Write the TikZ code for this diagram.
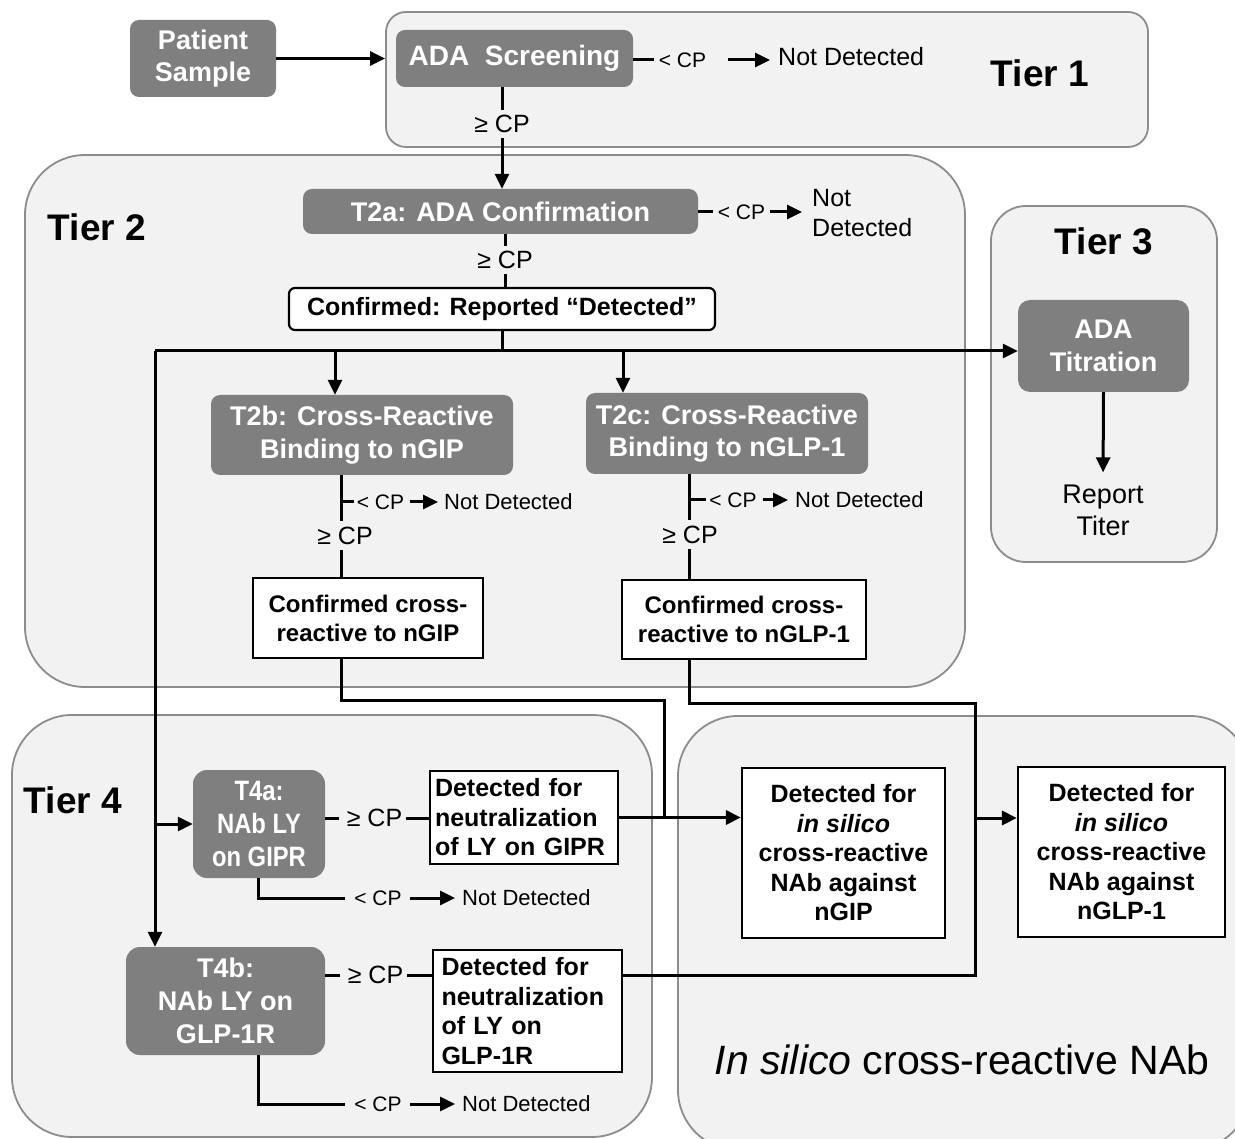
\documentclass[tikz,border=0pt]{standalone}
\usepackage{fontspec}
\setmainfont{Liberation Sans}
\newfontfamily\condfont[FakeStretch=0.85]{Liberation Sans}
\usetikzlibrary{arrows.meta}
\definecolor{boxgray}{HTML}{7F7F7F}
\definecolor{tierfill}{HTML}{F2F2F2}
\definecolor{tierline}{HTML}{8C8C8C}
\begin{document}
\begin{tikzpicture}[x=1pt,y=-1pt,
  gbox/.style={fill=boxgray, rounded corners=9pt, text=white, align=center, inner sep=0pt,
    font=\bfseries\fontsize{27}{32.5}\selectfont},
  wbox/.style={fill=white, draw=black, line width=2.2pt, align=center, inner sep=0pt,
    font=\bfseries\fontsize{25}{29.5}\selectfont},
  tierbox/.style={fill=tierfill, draw=tierline, line width=1.8pt, inner sep=0pt},
  tierlab/.style={font=\bfseries\fontsize{37}{44}\selectfont, inner sep=0pt},
  cplab/.style={font=\fontsize{21}{25}\selectfont, inner sep=0pt},
  gelab/.style={font=\fontsize{25}{30}\selectfont, inner sep=0pt},
  ndlab/.style={font=\fontsize{22}{26}\selectfont, inner sep=0pt, anchor=west},
  conn/.style={line width=3pt},
  arr/.style={conn, -{Triangle[length=15pt,width=14pt]}}
]
\useasboundingbox (0,0) rectangle (1235,1139);
\fill[white] (0,0) rectangle (1235,1139);
% containers
\begin{scope}
\clip (0,0) rectangle (1235,1139);
\node[tierbox, rounded corners=20pt, minimum width=762pt, minimum height=135pt] (t1) at (767,79.5) {};
\node[tierbox, rounded corners=60pt, minimum width=940pt, minimum height=532pt] (t2) at (495,421) {};
\node[tierbox, rounded corners=35pt, minimum width=226pt, minimum height=356pt] (t3) at (1104,384) {};
\node[tierbox, rounded corners=60pt, minimum width=640pt, minimum height=422pt] (t4) at (332,926) {};
\node[tierbox, rounded corners=60pt, minimum width=572pt, minimum height=434pt] (t5) at (964,933) {};
\end{scope}
% tier labels
\node[tierlab] (t1lab) at (1040,73) {Tier 1};
\node[tierlab] (t2lab) at (97,227) {Tier 2};
\node[tierlab] (t3lab) at (1104,241) {Tier 3};
\node[tierlab] (t4lab) at (73,800) {Tier 4};
\node[font=\fontsize{41}{48}\selectfont, inner sep=0pt] (t5lab) at (962,1060) {\itshape In silico\upshape{} cross-reactive NAb};
% tier 1
\node[gbox, minimum width=146pt, minimum height=77pt] (ps) at (203,58.5) {Patient\\Sample};
\node[gbox, minimum width=237pt, minimum height=57pt, font=\bfseries\fontsize{28}{33}\selectfont] (scr) at (514.5,58.5) {\raisebox{-2pt}{ADA\ \ Screening}};
\node[cplab] (lt1) at (682.5,60) {< CP};
\node[ndlab, font=\fontsize{25}{30}\selectfont] (nd1) at (778,57) {Not Detected};
\node[gelab] (ge1) at (502,124) {≥ CP};
% tier 2
\node[gbox, minimum width=395pt, minimum height=45pt] (t2a) at (500.5,211.5) {T2a: ADA Confirmation};
\node[cplab] (lt2) at (741.5,212) {< CP};
\node[ndlab, align=left, font=\fontsize{25}{30}\selectfont] (nd2) at (812,213) {Not\\Detected};
\node[gelab] (ge2) at (505,260) {≥ CP};
\node[wbox, rounded corners=6pt, minimum width=426pt, minimum height=42pt] (conf) at (502,309) {Confirmed: Reported “Detected”};
\node[gbox, minimum width=302pt, minimum height=80pt] (t2b) at (362,435) {T2b: Cross-Reactive\\Binding to nGIP};
\node[gbox, minimum width=282pt, minimum height=81pt] (t2c) at (727,433.5) {T2c: Cross-Reactive\\Binding to nGLP-1};
\node[cplab] (lt3) at (380.5,502) {< CP};
\node[ndlab] (nd3) at (444,502) {Not Detected};
\node[gelab] (ge3) at (345,536) {≥ CP};
\node[cplab] (lt4) at (733,500) {< CP};
\node[ndlab] (nd4) at (795,500) {Not Detected};
\node[gelab] (ge4) at (690,535) {≥ CP};
\node[wbox, minimum width=230pt, minimum height=80pt, font=\bfseries\fontsize{24}{29}\selectfont] (cc1) at (368,618) {Confirmed cross-\\reactive to nGIP};
\node[wbox, minimum width=244pt, minimum height=79pt, font=\bfseries\fontsize{24}{29}\selectfont] (cc2) at (744,619.5) {Confirmed cross-\\reactive to nGLP-1};
% tier 3
\node[gbox, rounded corners=12pt, minimum width=171pt, minimum height=92pt] (tit) at (1103.5,346) {ADA\\Titration};
\node[font=\fontsize{27}{32}\selectfont, align=center, inner sep=0pt] (rep) at (1103,510) {Report\\Titer};
% tier 4
\node[gbox, rounded corners=14pt, minimum width=132pt, minimum height=108pt, font=\condfont\bfseries\fontsize{28}{33}\selectfont] (t4a) at (259,824) {T4a:\\NAb LY\\on GIPR};
\node[gbox, rounded corners=14pt, minimum width=199pt, minimum height=108pt, font=\bfseries\fontsize{27}{33}\selectfont] (t4b) at (225.5,1001) {T4b:\\NAb LY on\\GLP-1R};
\node[gelab] (ge5) at (374.5,818) {≥ CP};
\node[wbox, align=left, text width=178pt, minimum width=188pt, minimum height=93pt] (dn1) at (524,817.5) {Detected for\\neutralization\\of LY on GIPR};
\node[cplab] (lt5) at (378,898) {< CP};
\node[ndlab] (nd5) at (462,898) {Not Detected};
\node[gelab] (ge6) at (375.5,975) {≥ CP};
\node[wbox, align=left, text width=172pt, minimum width=189pt, minimum height=122pt] (dn2) at (527.5,1011) {Detected for\\neutralization\\of LY on\\GLP-1R};
\node[cplab] (lt6) at (378,1104) {< CP};
\node[ndlab] (nd6) at (462,1104) {Not Detected};
% in silico
\node[wbox, minimum width=203pt, minimum height=170pt] (is1) at (843.5,853) {Detected for\\\textit{in silico}\\cross-reactive\\NAb against\\nGIP};
\node[wbox, minimum width=207pt, minimum height=170pt] (is2) at (1121.5,852) {Detected for\\\textit{in silico}\\cross-reactive\\NAb against\\nGLP-1};
% helper coordinates
\coordinate (j1) at (502,351);
\coordinate (jl) at (155,351);
\coordinate (jb) at (335,351);
\coordinate (jc) at (623,351);
\coordinate (xb) at (341,0);
\coordinate (xc) at (689,0);
\coordinate (x4) at (258,0);
\coordinate (ka) at (664,700);
\coordinate (kb) at (975,703);
\coordinate (kc) at (975,818);
\coordinate (ky) at (975,975);
\coordinate (e5) at (345,898);
\coordinate (e6) at (345,1104);
% connectors tier 1
\draw[arr] (ps.east) -- (ps.east -| t1.west);
\draw[conn, shorten >=5pt] (scr.east |- lt1) -- (lt1.west);
\draw[arr, shorten <=22pt, shorten >=8pt] (lt1.east) -- (nd1.west |- lt1);
\draw[conn, shorten >=5pt] (ge1 |- scr.south) -- (ge1.north);
\draw[arr, shorten <=5pt] (ge1.south) -- (ge1 |- t2a.north);
% tier 2
\draw[conn, shorten >=5pt] (t2a.east |- lt2) -- (lt2.west);
\draw[arr, shorten <=5pt, shorten >=10pt] (lt2.east) -- (nd2.west |- lt2);
\draw[conn, shorten >=5pt] (ge2 |- t2a.south) -- (ge2.north);
\draw[conn, shorten <=5pt] (ge2.south) -- (ge2 |- conf.north);
\draw[conn] (j1 |- conf.south) -- (j1);
\draw[arr] (jl) -- (j1 -| tit.west);
\draw[arr] (jb) -- (jb |- t2b.north);
\draw[arr] (jc) -- (jc |- t2c.north);
\draw[arr] (jl) -- (jl |- t4b.north);
\draw[arr] (jl |- t4a) -- (t4a.west);
% T2b branch
\draw[conn, shorten >=6pt] (xb |- t2b.south) -- (xb |- ge3.north);
\draw[conn, shorten <=5pt] (xb |- ge3.south) -- (xb |- cc1.north);
\draw[conn, shorten >=3pt] (xb |- lt3) -- (lt3.west);
\draw[arr, shorten <=6pt, shorten >=6pt] (lt3.east) -- (nd3.west);
% T2c branch
\draw[conn, shorten >=6pt] (xc |- t2c.south) -- (xc |- ge4.north);
\draw[conn, shorten <=5pt] (xc |- ge4.south) -- (xc |- cc2.north);
\draw[conn, shorten >=3pt] (xc |- lt4) -- (lt4.west);
\draw[arr, shorten <=6pt, shorten >=7pt] (lt4.east) -- (nd4.west);
% tier 3
\draw[arr, shorten >=12pt] (tit.south) -- (rep.north);
% cross-reactive routes
\draw[conn] (xb |- cc1.south) |- (ka) -- (ka |- dn1.east);
\draw[conn] (xc |- cc2.south) |- (kb) -- (ky) -- (ky -| dn2.east);
\draw[arr] (dn1.east) -- (is1.west |- dn1.east);
\draw[arr] (kc) -- (kc -| is2.west);
% tier 4
\draw[conn, shorten >=8pt] (t4a.east |- ge5) -- (ge5.west);
\draw[conn, shorten <=4pt] (ge5.east) -- (ge5 -| dn1.west);
\draw[conn] (x4 |- t4a.south) |- (e5);
\draw[arr, shorten <=8pt, shorten >=7pt] (lt5.east) -- (nd5.west);
\draw[conn, shorten >=8pt] (t4b.east |- ge6) -- (ge6.west);
\draw[conn, shorten <=4pt] (ge6.east) -- (ge6 -| dn2.west);
\draw[conn] (x4 |- t4b.south) |- (e6);
\draw[arr, shorten <=8pt, shorten >=7pt] (lt6.east) -- (nd6.west);
\end{tikzpicture}
\end{document}
